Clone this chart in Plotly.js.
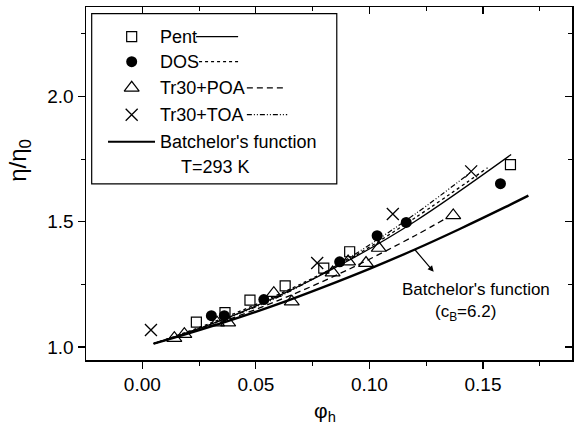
<!DOCTYPE html>
<html>
<head>
<meta charset="utf-8">
<script src="https://cdn.plot.ly/plotly-3.0.1.min.js"></script>
<style>html,body{margin:0;padding:0;background:#fff;}#chart{width:581px;height:439px;}</style>
</head>
<body>
<div id="chart"></div>
<script>
// ---- data ----
const phiPent = [0.0238, 0.0364, 0.0474, 0.0629, 0.0799, 0.0913, 0.1621];
const etaPent = [1.099, 1.137, 1.187, 1.244, 1.315, 1.380, 1.728];
const phiDOS = [0.0304, 0.0361, 0.0535, 0.0869, 0.1034, 0.1162, 0.1577];
const etaDOS = [1.125, 1.125, 1.189, 1.340, 1.444, 1.497, 1.652];
const phiPOA = [0.0141, 0.0185, 0.0329, 0.0378, 0.0579, 0.0658, 0.0838, 0.0906, 0.0985, 0.1041, 0.1369];
const etaPOA = [1.035, 1.051, 1.097, 1.097, 1.215, 1.181, 1.297, 1.341, 1.335, 1.395, 1.525];
const phiTOA = [0.0038, 0.0770, 0.1103, 0.1448];
const etaTOA = [1.068, 1.335, 1.531, 1.701];

// fitted curves
const phiPentFit = [0.005, 0.03, 0.06, 0.09, 0.12, 0.1624];
const etaPentFit = [1.013, 1.090, 1.204, 1.341, 1.501, 1.768];
const phiDOSFit = [0.005, 0.03, 0.06, 0.09, 0.12, 0.152];
const etaDOSFit = [1.013, 1.095, 1.210, 1.345, 1.515, 1.715];
const phiPOAFit = [0.005, 0.03, 0.06, 0.09, 0.12, 0.134];
const etaPOAFit = [1.013, 1.084, 1.186, 1.306, 1.444, 1.515];
const phiTOAFit = [0.005, 0.03, 0.06, 0.09, 0.12, 0.145];
const etaTOAFit = [1.013, 1.090, 1.200, 1.350, 1.530, 1.700];
const phiBatch = [0.005, 0.02, 0.04, 0.06, 0.08, 0.10, 0.12, 0.14, 0.16, 0.17];
const etaBatch = [1.013, 1.053, 1.110, 1.172, 1.240, 1.312, 1.389, 1.472, 1.559, 1.604];

const legendNames = ['Pent', 'DOS', 'Tr30+POA', 'Tr30+TOA', "Batchelor's function", 'T=293 K'];
const xTickVals = [0.00, 0.05, 0.10, 0.15];
const yTickVals = [1.0, 1.5, 2.0];

// ---- styling ----
const FONT = 'Liberation Sans, Arial, Helvetica, sans-serif';
const BLK = '#000';
const sqM = {symbol: 'square-open', size: 10, color: BLK, line: {color: BLK, width: 1.2}};
const ciM = {symbol: 'circle', size: 11, color: BLK, line: {color: BLK, width: 0}};
const trM = {symbol: 'triangle-up-open', size: 13, color: BLK, line: {color: BLK, width: 1.2}};
const xxM = {symbol: 'x-thin-open', size: 12, color: BLK, line: {color: BLK, width: 1.3}};
const dashDot = '5px,2px,1px,2px,1px,2px';

const traces = [
  {x: phiBatch, y: etaBatch, xaxis: 'x2', yaxis: 'y2', mode: 'lines', line: {color: BLK, width: 2.4, shape: 'spline'}},
  {x: phiPentFit, y: etaPentFit, mode: 'lines', line: {color: BLK, width: 1.3, shape: 'spline'}},
  {x: phiDOSFit, y: etaDOSFit, mode: 'lines', line: {color: BLK, width: 1.3, dash: 'dot', shape: 'spline'}},
  {x: phiPOAFit, y: etaPOAFit, mode: 'lines', line: {color: BLK, width: 1.3, dash: '6px,4px', shape: 'spline'}},
  {x: phiTOAFit, y: etaTOAFit, mode: 'lines', line: {color: BLK, width: 1.2, dash: dashDot, shape: 'spline'}},
  {x: phiPent, y: etaPent, mode: 'markers', marker: sqM},
  {x: phiDOS, y: etaDOS, mode: 'markers', marker: ciM},
  {x: phiPOA, y: etaPOA, mode: 'markers', marker: trM},
  {x: phiTOA, y: etaTOA, mode: 'markers', marker: xxM},
];

// legend (drawn on an overlay axis spanning [0,1])
const rowY = [0.916, 0.845, 0.771, 0.695, 0.618, 0.547];
const mX = 0.094;
const legMarkers = [sqM, ciM, trM, xxM];
legMarkers.forEach((m, i) => {
  traces.push({x: [mX], y: [rowY[i]], xaxis: 'x3', yaxis: 'y3', mode: 'markers', marker: m, cliponaxis: false});
});
const legLines = [
  {x: [0.2265, 0.313], y: rowY[0], line: {color: BLK, width: 1.3}},
  {x: [0.2203, 0.313], y: rowY[1], line: {color: BLK, width: 1.3, dash: 'dot'}},
  {x: [0.331, 0.41], y: rowY[2], line: {color: BLK, width: 1.3, dash: '6px,4px'}},
  {x: [0.331, 0.414], y: rowY[3], line: {color: BLK, width: 1.2, dash: dashDot}},
  {x: [0.0453, 0.142], y: rowY[4], line: {color: BLK, width: 2}},
];
legLines.forEach(l => {
  traces.push({x: l.x, y: [l.y, l.y], xaxis: 'x3', yaxis: 'y3', mode: 'lines', line: l.line, cliponaxis: false});
});

const annotations = [];
legendNames.slice(0, 5).forEach((t, i) => {
  annotations.push({xref: 'paper', yref: 'paper', x: 0.148, y: rowY[i], xanchor: 'left', yanchor: 'middle',
    text: t, showarrow: false, font: {family: FONT, size: 18, color: BLK}});
});
annotations.push({xref: 'paper', yref: 'paper', x: 0.2666, y: rowY[5], xanchor: 'center', yanchor: 'middle',
  text: legendNames[5], showarrow: false, font: {family: FONT, size: 18, color: BLK}});
annotations.push({xref: 'paper', yref: 'paper', x: 0.803, y: 0.201, xanchor: 'center', yanchor: 'middle',
  text: "Batchelor's function", showarrow: false, font: {family: FONT, size: 17, color: BLK}});
annotations.push({xref: 'paper', yref: 'paper', x: 0.780, y: 0.133, xanchor: 'center', yanchor: 'middle',
  text: '(c<sub>B</sub>=6.2)', showarrow: false, font: {family: FONT, size: 17, color: BLK}});
annotations.push({xref: 'x', yref: 'y', x: 0.1283, y: 1.30, axref: 'x', ayref: 'y', ax: 0.1194, ay: 1.395,
  text: '', showarrow: true, arrowhead: 2, arrowsize: 1, arrowwidth: 1.2, arrowcolor: BLK});
// axis titles
annotations.push({xref: 'paper', yref: 'paper', x: -0.136, y: 0.567, xanchor: 'center', yanchor: 'middle', textangle: -90,
  text: 'η/η<sub>0</sub>', showarrow: false, font: {family: FONT, size: 24, color: BLK}});
annotations.push({xref: 'paper', yref: 'paper', x: 0.492, y: -0.147, xanchor: 'center', yanchor: 'middle',
  text: 'φ<sub>h</sub>', showarrow: false, font: {family: FONT, size: 21, color: BLK}});

const xr = [-0.0248, 0.1892];
const yr = [0.948, 2.357];
const axBase = {showgrid: false, zeroline: false, showline: true, linecolor: BLK, linewidth: 1.5,
  tickcolor: BLK, tickwidth: 1.2, tickfont: {family: FONT, size: 19, color: BLK}, fixedrange: true};

const layout = {
  width: 581, height: 439,
  margin: {l: 86, r: 9, t: 7, b: 79, pad: 0},
  paper_bgcolor: '#fff', plot_bgcolor: '#fff',
  showlegend: false,
  font: {family: FONT, size: 19, color: BLK},
  xaxis: Object.assign({}, axBase, {range: xr, tickvals: xTickVals, tickformat: '.2f', ticks: 'outside', ticklen: 7,
    minor: {dtick: 0.025, tick0: 0, ticks: 'outside', ticklen: 4, tickcolor: BLK, tickwidth: 1}}),
  yaxis: Object.assign({}, axBase, {range: yr, tickvals: yTickVals, tickformat: '.1f', ticks: 'outside', ticklen: 7,
    minor: {dtick: 0.25, tick0: 0, ticks: 'outside', ticklen: 4, tickcolor: BLK, tickwidth: 1}}),
  xaxis2: Object.assign({}, axBase, {overlaying: 'x', side: 'top', anchor: 'y2', range: xr, tickvals: xTickVals,
    showticklabels: false, ticks: 'inside', ticklen: 7,
    minor: {dtick: 0.025, tick0: 0, ticks: 'inside', ticklen: 4, tickcolor: BLK, tickwidth: 1}}),
  yaxis2: Object.assign({}, axBase, {overlaying: 'y', side: 'right', anchor: 'x2', range: yr, tickvals: yTickVals,
    showticklabels: false, ticks: 'inside', ticklen: 7,
    minor: {dtick: 0.25, tick0: 0, ticks: 'inside', ticklen: 4, tickcolor: BLK, tickwidth: 1}}),
  xaxis3: {overlaying: 'x', anchor: 'y3', range: [0, 1], visible: false, fixedrange: true},
  yaxis3: {overlaying: 'y', anchor: 'x3', range: [0, 1], visible: false, fixedrange: true},
  shapes: [
    {type: 'rect', xref: 'paper', yref: 'paper', x0: 0.0117, x1: 0.516, y0: 0.499, y1: 0.981,
      line: {color: BLK, width: 1.2}, fillcolor: 'rgba(0,0,0,0)', layer: 'above'}
  ],
  annotations: annotations
};

Plotly.newPlot('chart', traces, layout, {displayModeBar: false, staticPlot: true});
</script>
</body>
</html>
